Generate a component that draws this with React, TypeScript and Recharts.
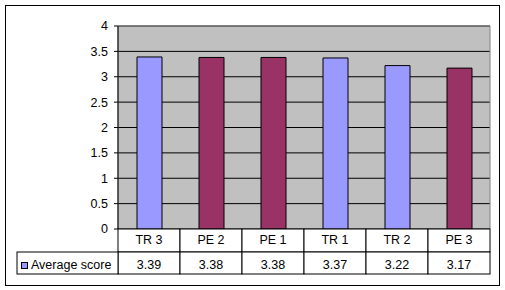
import { BarChart, Bar, XAxis, YAxis, CartesianGrid, Cell, ReferenceArea } from 'recharts'

const categories = ['TR 3', 'PE 2', 'PE 1', 'TR 1', 'TR 2', 'PE 3']
const scores = [3.39, 3.38, 3.38, 3.37, 3.22, 3.17]
const barColors = ['#9999ff', '#993366', '#993366', '#9999ff', '#9999ff', '#993366']
const yTicks = [0, 0.5, 1, 1.5, 2, 2.5, 3, 3.5, 4]
const seriesName = 'Average score'

const data = categories.map((name, i) => ({ name, value: scores[i] }))

const font = '"Liberation Sans", Arial, sans-serif'
const plotLeft = 118
const plotRight = 490
const bandW = (plotRight - plotLeft) / categories.length
const rowTop = 229
const rowMid = 252
const rowBottom = 274

const TableTick = (props: any) => {
  const { x, payload } = props
  const i = payload.index
  const left = x - bandW / 2
  return (
    <g>
      <rect x={left} y={rowTop} width={bandW} height={rowMid - rowTop} fill="#fff" stroke="#000" />
      <rect x={left} y={rowMid} width={bandW} height={rowBottom - rowMid} fill="#fff" stroke="#000" />
      <text x={x} y={244} textAnchor="middle" fontSize={12.5} fontFamily={font} fill="#000">
        {payload.value}
      </text>
      <text x={x} y={268.5} textAnchor="middle" fontSize={12.5} fontFamily={font} fill="#000">
        {scores[i].toFixed(2)}
      </text>
      {i === 0 && (
        <g>
          <rect x={17} y={rowMid} width={left - 17} height={rowBottom - rowMid} fill="#fff" stroke="#000" />
          <rect x={21.5} y={262.5} width={6} height={6} fill={barColors[0]} stroke="#000" />
          <text x={31} y={268.5} fontSize={12.5} fontFamily={font} fill="#000">
            {seriesName}
          </text>
        </g>
      )}
    </g>
  )
}

export default function App() {
  return (
    <div style={{ position: 'absolute', left: 0, top: 0, width: 505, height: 290, background: '#fff' }}>
      <div
        style={{
          position: 'absolute',
          left: 5,
          top: 5,
          width: 493,
          height: 279,
          border: '1px solid #000',
        }}
      />
      <BarChart
        width={505}
        height={290}
        data={data}
        margin={{ top: 26, right: 505 - plotRight, bottom: 0, left: 0 }}
        barSize={25}
        style={{ position: 'absolute', left: 0, top: 0 }}
      >
        <CartesianGrid vertical={false} stroke="#000" fill="#c0c0c0" fillOpacity={1} />
        <ReferenceArea y1={0} y2={4} stroke="#808080" strokeWidth={1} fill="none" ifOverflow="visible" />
        <XAxis
          dataKey="name"
          height={61}
          axisLine={false}
          tickLine={false}
          interval={0}
          tick={<TableTick />}
        />
        <YAxis
          width={plotLeft}
          domain={[0, 4]}
          ticks={yTicks}
          interval={0}
          tickSize={4}
          tickMargin={6}
          axisLine={{ stroke: '#000' }}
          tickLine={{ stroke: '#000' }}
          tick={{ fill: '#000', fontSize: 12.5, fontFamily: font }}
        />
        <Bar dataKey="value" stroke="#000" strokeWidth={1} isAnimationActive={false}>
          {data.map((d, i) => (
            <Cell key={d.name} fill={barColors[i]} />
          ))}
        </Bar>
      </BarChart>
    </div>
  )
}
